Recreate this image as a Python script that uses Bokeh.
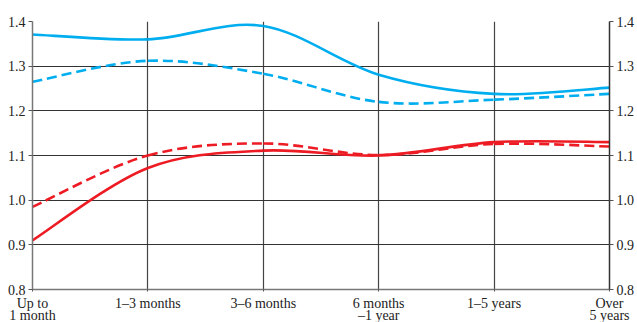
from bokeh.plotting import figure
from bokeh.models import LinearAxis, FixedTicker, Range1d
from bokeh.embed import file_html
from bokeh.resources import INLINE

categories_line1 = ["Up to", "1\u20133 months", "3\u20136 months", "6 months", "1\u20135 years", "Over"]
categories_line2 = ["1 month", "", "", "\u20131 year", "", "5 years"]
blue_solid = [1.371, 1.360, 1.390, 1.281, 1.238, 1.252]
blue_dashed = [1.265, 1.312, 1.283, 1.220, 1.225, 1.238]
red_solid = [0.910, 1.072, 1.111, 1.100, 1.130, 1.130]
red_dashed = [0.985, 1.100, 1.127, 1.101, 1.126, 1.120]
y_ticks = [0.8, 0.9, 1.0, 1.1, 1.2, 1.3, 1.4]

BLUE = "#00AEEF"
RED = "#ED1C24"
FONT = "Liberation Serif"

xs = list(range(len(categories_line1)))

p = figure(width=637, height=325, output_backend="svg", toolbar_location=None,
           x_range=Range1d(0, len(xs) - 1), y_range=Range1d(0.8, 1.4),
           min_border_left=32, min_border_right=24, min_border_top=21, min_border_bottom=10)
p.outline_line_color = None


def smooth(vals):
    n = len(vals)
    x0, y0, x1, y1, cx0, cy0, cx1, cy1 = [], [], [], [], [], [], [], []
    for i in range(n - 1):
        im1 = max(i - 1, 0)
        ip2 = min(i + 2, n - 1)
        x0.append(xs[i]); y0.append(vals[i])
        x1.append(xs[i + 1]); y1.append(vals[i + 1])
        cx0.append(xs[i] + (xs[i + 1] - xs[im1]) / 6.0)
        cy0.append(vals[i] + (vals[i + 1] - vals[im1]) / 6.0)
        cx1.append(xs[i + 1] - (xs[ip2] - xs[i]) / 6.0)
        cy1.append(vals[i + 1] - (vals[ip2] - vals[i]) / 6.0)
    return dict(x0=x0, y0=y0, x1=x1, y1=y1, cx0=cx0, cy0=cy0, cx1=cx1, cy1=cy1)


for vals, color, dash in [(blue_dashed, BLUE, "10 5"), (blue_solid, BLUE, "solid"),
                          (red_dashed, RED, "10 5"), (red_solid, RED, "solid")]:
    d = smooth(vals)
    p.bezier(x0=d["x0"], y0=d["y0"], x1=d["x1"], y1=d["y1"],
             cx0=d["cx0"], cy0=d["cy0"], cx1=d["cx1"], cy1=d["cy1"],
             line_color=color, line_width=2.6, line_dash=dash)

# axes
p.xaxis.ticker = FixedTicker(ticks=xs)
p.xaxis.major_label_overrides = {i: c for i, c in enumerate(categories_line1)}
p.yaxis.ticker = FixedTicker(ticks=y_ticks)
p.yaxis.major_label_overrides = {t: f"{t:.1f}" for t in y_ticks}

right = LinearAxis(ticker=FixedTicker(ticks=y_ticks))
right.major_label_overrides = {t: f"{t:.1f}" for t in y_ticks}
p.add_layout(right, "right")

bottom2 = LinearAxis(ticker=FixedTicker(ticks=xs))
bottom2.major_label_overrides = {i: c for i, c in enumerate(categories_line2)}
p.add_layout(bottom2, "below")

for ax in [p.xaxis[0], p.yaxis[0], right, bottom2]:
    ax.axis_line_color = "#777777"
    ax.axis_line_width = 1.5
    ax.major_tick_line_color = "#555555"
    ax.major_tick_in = 0
    ax.major_tick_out = 4
    ax.minor_tick_line_color = None
    ax.major_label_text_font = FONT
    ax.major_label_text_font_size = "14px"
    ax.major_label_text_color = "#222222"
    ax.major_label_standoff = 3
right.axis_line_color = "#333333"
p.xaxis[0].major_label_standoff = 4
p.xaxis[0].major_tick_out = 2
bottom2.axis_line_color = None
bottom2.major_tick_line_color = None
bottom2.major_tick_out = 0
bottom2.major_label_standoff = -6

p.xgrid.ticker = FixedTicker(ticks=xs)
p.xgrid.grid_line_color = "#444444"
p.xgrid.grid_line_width = 1.2
p.ygrid.ticker = FixedTicker(ticks=y_ticks)
p.ygrid.grid_line_color = "#333333"
p.ygrid.grid_line_width = 1.2

open("out.html", "w").write(file_html(p, INLINE))
